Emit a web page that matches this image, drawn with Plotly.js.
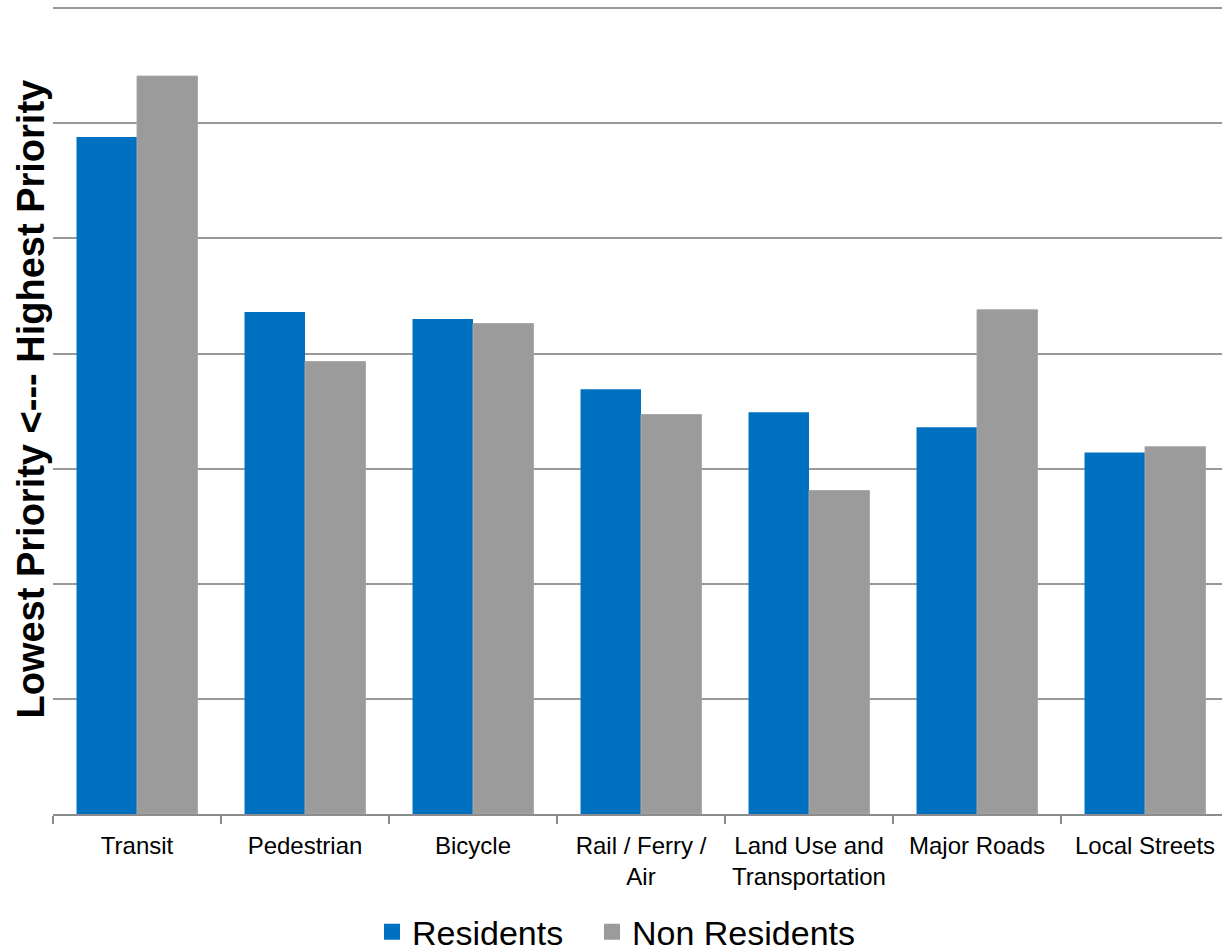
<!DOCTYPE html>
<html>
<head>
<meta charset="utf-8">
<script src="https://cdn.plot.ly/plotly-3.0.1.min.js"></script>
<style>html,body{margin:0;padding:0;background:#fff;overflow:hidden;}#chart{width:1229px;height:950px;}</style>
</head>
<body>
<div id="chart"></div>
<script>
const categories = ["Transit", "Pedestrian", "Bicycle", "Rail / Ferry /<br>Air", "Land Use and<br>Transportation", "Major Roads", "Local Streets"];
const residents = [5.88, 4.36, 4.30, 3.69, 3.49, 3.36, 3.14];
const nonResidents = [6.41, 3.93, 4.26, 3.47, 2.81, 4.38, 3.19];
const seriesNames = ["Residents", "Non Residents"];
const seriesColors = ["#0070C0", "#9B9B9B"];
const yTitle = "Lowest Priority <--- Highest Priority";

const traces = [
  {type: "bar", name: seriesNames[0], x: categories, y: residents, marker: {color: seriesColors[0]}, showlegend: false},
  {type: "bar", name: seriesNames[1], x: categories, y: nonResidents, marker: {color: seriesColors[1], line: {color: "#A8A8A8", width: 1}}, showlegend: false},
  {type: "scatter", mode: "markers", name: seriesNames[0], x: [null], y: [null], marker: {symbol: "square", size: 16, color: seriesColors[0]}, showlegend: true, legend: "legend"},
  {type: "scatter", mode: "markers", name: seriesNames[1], x: [null], y: [null], marker: {symbol: "square", size: 16, color: seriesColors[1]}, showlegend: true, legend: "legend2"}
];

const legendBase = {orientation: "h", xref: "container", xanchor: "left", yref: "paper", y: -0.1465, yanchor: "middle", font: {size: 34, color: "#000"}, itemwidth: 30, bgcolor: "rgba(0,0,0,0)"};

const layout = {
  width: 1229, height: 950,
  margin: {l: 53, r: 0, t: 7, b: 136, autoexpand: false},
  paper_bgcolor: "#fff", plot_bgcolor: "#fff",
  font: {family: "Liberation Sans, Arial, sans-serif", color: "#000"},
  barmode: "group", bargap: 0.28, bargroupgap: 0,
  xaxis: {
    type: "category",
    showline: true, linecolor: "#8C8C8C", linewidth: 2,
    ticks: "outside", tickson: "boundaries", ticklen: 8, tickcolor: "#8C8C8C", tickwidth: 2,
    tickfont: {size: 24, color: "#000"}, tickangle: 0,
    ticklabelstandoff: 9, automargin: false,
    showgrid: false, fixedrange: true
  },
  yaxis: {
    range: [0, 7.01], dtick: 1, tick0: 0,
    showticklabels: false, ticks: "",
    showgrid: true, gridcolor: "#999999", gridwidth: 2,
    zeroline: false, showline: false, automargin: false
  },
  annotations: [{
    text: yTitle, xref: "paper", yref: "paper", x: 0, y: 0.5, xanchor: "center", yanchor: "middle",
    xshift: -23, yshift: 11, textangle: -90, showarrow: false,
    font: {size: 38, color: "#000", family: "Liberation Sans, Arial, sans-serif", weight: "bold"}
  }],
  showlegend: true,
  legend: Object.assign({}, legendBase, {x: 372 / 1229}),
  legend2: Object.assign({}, legendBase, {x: 592 / 1229})
};

Plotly.newPlot("chart", traces, layout, {displayModeBar: false, staticPlot: true});
</script>
</body>
</html>
